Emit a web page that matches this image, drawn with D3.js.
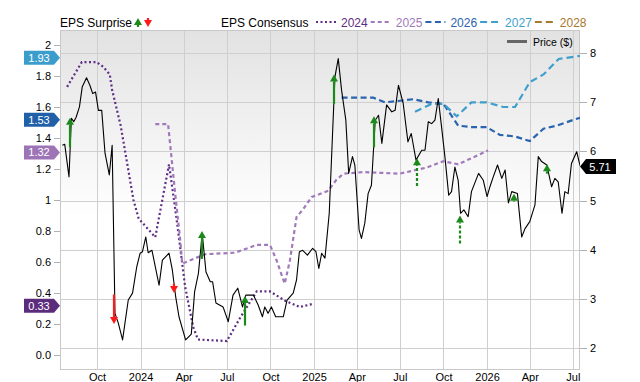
<!DOCTYPE html>
<html lang="en">
<head>
<meta charset="utf-8">
<style>
    body { margin: 0; background: #fff; }
    svg text { font-family: "Liberation Sans", Arial, sans-serif; }
    .grid line { stroke: #cfcfcf; stroke-width: 1; shape-rendering: crispEdges; }
    .axis path { display: none; }
    .axis line { stroke: #b0b0b0; shape-rendering: crispEdges; }
    .axis text { font-size: 11px; fill: #000; }
</style>
</head>
<body>
<svg width="640" height="382"></svg>

<script src="https://d3js.org/d3.v7.min.js"></script>
<script>
// ---- data ----
var priceData = [
    ["2023-07-20",6.12],["2023-07-25",6.14],["2023-08-03",5.48],["2023-08-08",6.67],["2023-08-13",6.60],
    ["2023-08-18",6.69],["2023-08-25",6.90],["2023-08-31",7.31],["2023-09-09",7.49],["2023-09-16",7.34],
    ["2023-09-22",7.17],["2023-09-28",7.20],["2023-10-04",6.83],["2023-10-11",6.83],["2023-10-18",5.96],
    ["2023-10-27",5.52],["2023-11-02",6.12],["2023-11-08",2.71],["2023-11-15",2.51],["2023-11-24",2.17],
    ["2023-12-06",2.98],["2023-12-15",3.12],["2023-12-24",3.66],["2023-12-31",3.93],["2024-01-05",3.96],
    ["2024-01-12",4.26],["2024-01-17",3.94],["2024-01-25",3.99],["2024-02-01",3.66],["2024-02-09",3.28],
    ["2024-02-16",3.79],["2024-03-01",3.93],["2024-03-08",3.59],["2024-03-15",3.05],["2024-03-22",2.64],
    ["2024-04-05",2.17],["2024-04-17",2.29],["2024-04-24",3.15],["2024-05-02",3.52],["2024-05-10",4.33],
    ["2024-05-18",3.55],["2024-05-27",3.35],["2024-06-01",3.35],["2024-06-08",2.92],["2024-06-23",2.84],
    ["2024-07-04",2.54],["2024-07-14",3.08],["2024-07-24",3.22],["2024-08-03",2.84],["2024-08-10",3.08],
    ["2024-08-26",3.08],["2024-09-05",2.88],["2024-09-14",2.64],["2024-09-19",2.84],["2024-09-26",2.71],
    ["2024-10-03",2.84],["2024-10-12",2.64],["2024-10-28",2.64],["2024-11-05",2.98],["2024-11-18",3.12],
    ["2024-11-25",3.39],["2024-12-01",3.96],["2024-12-08",3.99],["2024-12-18",3.89],["2024-12-29",4.03],
    ["2025-01-05",3.96],["2025-01-11",3.62],["2025-01-17",3.93],["2025-01-24",3.83],["2025-02-02",4.74],
    ["2025-02-09",6.36],["2025-02-14",7.51],["2025-02-21",7.88],["2025-02-28",7.24],["2025-03-09",6.63],
    ["2025-03-15",5.55],["2025-03-23",5.89],["2025-03-28",5.72],["2025-04-06",4.40],["2025-04-11",4.23],
    ["2025-04-18",4.54],["2025-04-25",5.14],["2025-05-02",5.31],["2025-05-10",6.63],["2025-05-17",6.73],
    ["2025-05-24",6.16],["2025-06-03",6.94],["2025-06-14",6.80],["2025-06-21",6.83],["2025-06-28",7.34],
    ["2025-07-08",6.97],["2025-07-18",6.19],["2025-07-25",6.36],["2025-08-04",5.82],["2025-08-16",6.02],
    ["2025-08-23",6.02],["2025-08-30",6.60],["2025-09-06",6.56],["2025-09-13",6.63],["2025-09-20",7.07],
    ["2025-09-27",6.49],["2025-10-04",5.89],["2025-10-12",5.11],["2025-10-18",5.18],["2025-10-25",5.68],
    ["2025-11-01",5.41],["2025-11-06",4.74],["2025-11-13",4.81],["2025-11-22",4.67],["2025-11-29",5.18],
    ["2025-12-14",5.55],["2025-12-24",5.41],["2026-01-01",5.08],["2026-01-07",5.28],["2026-01-14",5.48],
    ["2026-01-23",5.72],["2026-02-01",5.45],["2026-02-08",5.62],["2026-02-15",4.95],["2026-02-22",5.18],
    ["2026-03-06",5.14],["2026-03-15",4.26],["2026-03-22",4.43],["2026-04-01",4.57],["2026-04-12",4.91],
    ["2026-04-19",5.89],["2026-04-26",5.79],["2026-05-07",5.72],["2026-05-17",5.28],["2026-05-24",5.45],
    ["2026-05-31",5.38],["2026-06-08",4.74],["2026-06-14",5.18],["2026-06-21",5.14],["2026-06-28",5.75],
    ["2026-07-09",5.99],["2026-07-16",5.71]
];

var eps2024 = [
    ["2023-07-30",1.73],["2023-08-30",1.89],["2023-09-30",1.89],["2023-10-14",1.86],["2023-10-28",1.81],
    ["2023-11-02",1.71],["2023-11-20",1.48],["2023-12-17",1.00],["2023-12-28",0.88],["2024-02-01",0.76],
    ["2024-03-01",1.23],["2024-03-16",0.90],["2024-04-04",0.44],["2024-04-21",0.18],["2024-05-01",0.10],
    ["2024-07-01",0.09],["2024-07-29",0.24],["2024-09-02",0.41],["2024-09-30",0.41],["2024-11-01",0.35],
    ["2024-12-02",0.31],["2024-12-30",0.33]
];
var eps2025 = [
    ["2024-02-01",1.49],["2024-02-28",1.49],["2024-03-03",1.37],["2024-03-14",1.04],["2024-03-24",0.76],
    ["2024-03-29",0.59],["2024-05-16",0.65],["2024-07-18",0.66],["2024-09-02",0.71],["2024-09-30",0.71],
    ["2024-10-14",0.61],["2024-10-31",0.46],["2024-11-11",0.61],["2024-11-25",0.89],["2024-12-09",0.94],
    ["2024-12-27",1.02],["2025-01-06",1.03],["2025-01-31",1.06],["2025-02-17",1.13],["2025-03-04",1.17],
    ["2025-04-15",1.18],["2025-07-01",1.17],["2025-08-27",1.21],["2025-10-01",1.25],["2025-11-01",1.23],
    ["2026-01-03",1.32]
];
var eps2026 = [
    ["2025-02-28",1.66],["2025-05-06",1.66],["2025-05-31",1.63],["2025-07-29",1.65],["2025-08-30",1.63],
    ["2025-10-01",1.62],["2025-11-01",1.48],["2025-11-29",1.47],["2025-12-31",1.47],["2026-01-28",1.42],
    ["2026-03-01",1.41],["2026-04-01",1.38],["2026-04-30",1.46],["2026-05-28",1.48],["2026-07-05",1.52],
    ["2026-07-16",1.53]
];
var eps2027 = [
    ["2025-08-02",1.57],["2025-09-06",1.62],["2025-10-01",1.62],["2025-10-29",1.54],["2025-11-29",1.63],
    ["2025-12-31",1.63],["2026-02-04",1.60],["2026-03-01",1.60],["2026-04-01",1.76],["2026-04-30",1.81],
    ["2026-06-01",1.91],["2026-07-16",1.93]
];
var eps2028 = [];

var consensusYears = ["2024", "2025", "2026", "2027", "2028"];
var consensusSeries = [eps2024, eps2025, eps2026, eps2027, eps2028];

// EPS surprises: consensus (from) -> reported (to)
var surpriseDates = ["2023-08-06","2023-11-06","2024-03-11","2024-05-09","2024-08-08","2025-02-12",
                     "2025-05-08","2025-08-06","2025-11-04","2026-02-27","2026-05-08"];
var surpriseFrom  = [1.34, 0.39, 0.46, 0.62, 0.19, 1.62, 1.34, 1.09, 0.72, 0.99, 1.17];
var surpriseTo    = [1.53, 0.20, 0.40, 0.80, 0.38, 1.81, 1.54, 1.27, 0.90, 1.04, 1.23];
var surpriseEstimated = [false, false, false, false, false, false, false, true, true, false, false];

var epsTicks = [0, 0.2, 0.4, 0.6, 0.8, 1, 1.2, 1.4, 1.6, 1.8, 2];
var epsTickLabels = ["0.0", "0.2", "0.4", "0.6", "0.8", "1", "1.2", "1.4", "1.6", "1.8", "2"];
var priceTicks = [2, 3, 4, 5, 6, 7, 8];
var lastPrice = 5.71;

// ---- styles ----
var yearColors = ["#5e2d84", "#a17abb", "#2a64ae", "#3e9fcd", "#a8782c"];
var yearBadge  = ["#5c2c7c", "#9d74b5", "#2060a8", "#3b9dcb", "#a8782c"];
var yearDash   = ["2,2.5", "4,3", "6,3.5", "7,4", "7,4"];

var parse = d3.timeParse("%Y-%m-%d");
var svg = d3.select("svg");
var L = 60, R = 580, T = 30, B = 370;

var x = d3.scaleTime()
    .domain([new Date(2023, 6, 15), new Date(2026, 6, 16)])
    .range([L, R]);
var yEps = d3.scaleLinear().domain([0, 2]).range([355, 45]);
var yPrice = d3.scaleLinear().domain([2, 8]).range([348.3, 52.7]);

// background gradient
var defs = svg.append("defs");
var grad = defs.append("linearGradient").attr("id", "bg")
    .attr("x1", 0).attr("y1", 0).attr("x2", 0).attr("y2", 1);
grad.append("stop").attr("offset", "0%").attr("stop-color", "#e2e2e2");
grad.append("stop").attr("offset", "55%").attr("stop-color", "#ffffff");
grad.append("stop").attr("offset", "100%").attr("stop-color", "#ffffff");

defs.append("clipPath").attr("id", "plotclip")
    .append("rect").attr("x", L).attr("y", T).attr("width", R - L).attr("height", B - T);

svg.append("rect")
    .attr("x", L).attr("y", T).attr("width", R - L).attr("height", B - T)
    .attr("fill", "url(#bg)");

// grid
var quarterTicks = x.ticks(d3.timeMonth.every(3));
var grid = svg.append("g").attr("class", "grid");
grid.selectAll(".h").data(priceTicks).enter().append("line")
    .attr("x1", L).attr("x2", R)
    .attr("y1", function (d) { return Math.round(yPrice(d)) + 0.5; })
    .attr("y2", function (d) { return Math.round(yPrice(d)) + 0.5; });
grid.selectAll(".v").data(quarterTicks).enter().append("line")
    .attr("y1", T).attr("y2", B)
    .attr("x1", function (d) { return Math.round(x(d)) + 0.5; })
    .attr("x2", function (d) { return Math.round(x(d)) + 0.5; });
svg.append("rect")
    .attr("x", L + 0.5).attr("y", T + 0.5).attr("width", R - L - 1).attr("height", B - T - 1)
    .attr("fill", "none").attr("stroke", "#c8c8c8").attr("shape-rendering", "crispEdges");

// axes
svg.append("g").attr("class", "axis")
    .attr("transform", "translate(" + L + ",0)")
    .call(d3.axisLeft(yEps).tickValues(epsTicks).tickSize(6).tickPadding(3)
        .tickFormat(function (d, i) { return epsTickLabels[i]; }));

svg.append("g").attr("class", "axis")
    .attr("transform", "translate(" + R + ",0)")
    .call(d3.axisRight(yPrice).tickValues(priceTicks).tickSize(7).tickPadding(3)
        .tickFormat(d3.format("d")));

var xAxis = svg.append("g").attr("class", "axis")
    .attr("transform", "translate(0," + B + ")")
    .call(d3.axisBottom(x).tickValues(quarterTicks).tickSize(0).tickPadding(3)
        .tickFormat(function (d) {
            return d.getMonth() === 0 ? d3.timeFormat("%Y")(d) : d3.timeFormat("%b")(d);
        }));

// plot content
var plot = svg.append("g").attr("clip-path", "url(#plotclip)");

var epsLine = d3.line()
    .x(function (d) { return x(parse(d[0])); })
    .y(function (d) { return yEps(d[1]); });

consensusSeries.forEach(function (series, i) {
    if (!series.length) return;
    plot.append("path")
        .datum(series)
        .attr("d", epsLine)
        .attr("fill", "none")
        .attr("stroke", yearColors[i])
        .attr("stroke-width", 2.2)
        .attr("stroke-dasharray", yearDash[i]);
});

var priceLine = d3.line()
    .x(function (d) { return x(parse(d[0])); })
    .y(function (d) { return yPrice(d[1]); });

plot.append("path")
    .datum(priceData)
    .attr("d", priceLine)
    .attr("fill", "none")
    .attr("stroke", "#000")
    .attr("stroke-width", 1.1)
    .attr("stroke-linejoin", "round");

function arrow(g, cx, y0, y1, color, dashed) {
    var dir = y1 < y0 ? -1 : 1;
    var head = 7, hw = 4;
    var base = y1 - dir * head;
    if ((base - y0) * dir > 0) {
        g.append("line")
            .attr("x1", cx).attr("x2", cx).attr("y1", y0).attr("y2", base)
            .attr("stroke", color).attr("stroke-width", 2.2)
            .attr("stroke-dasharray", dashed ? "3,2" : null);
    }
    g.append("path")
        .attr("d", "M" + (cx - hw) + "," + base + "L" + (cx + hw) + "," + base + "L" + cx + "," + y1 + "Z")
        .attr("fill", color);
}

surpriseDates.forEach(function (d, i) {
    var up = surpriseTo[i] >= surpriseFrom[i];
    arrow(plot, Math.round(x(parse(d))), yEps(surpriseFrom[i]), yEps(surpriseTo[i]),
        up ? "#1b8a1b" : "#ff1a1a", surpriseEstimated[i]);
});

// badges for latest consensus values
consensusSeries.forEach(function (series, i) {
    if (!series.length) return;
    var v = series[series.length - 1][1];
    var cy = yEps(v) + 2;
    var g = svg.append("g");
    g.append("path")
        .attr("d", "M24," + (cy - 7) + "H54L60," + cy + "L54," + (cy + 7) + "H24Z")
        .attr("fill", yearBadge[i]);
    g.append("text")
        .attr("x", 39).attr("y", cy + 4)
        .attr("text-anchor", "middle")
        .attr("font-size", "11px")
        .attr("fill", "#fff")
        .text(d3.format(".2f")(v));
});

// price badge
(function () {
    var cy = yPrice(lastPrice) + 1;
    svg.append("path")
        .attr("d", "M580," + cy + "L586," + (cy - 7.5) + "H616V" + (cy + 7.5) + "H586Z")
        .attr("fill", "#000");
    svg.append("text")
        .attr("x", 600).attr("y", cy + 4)
        .attr("text-anchor", "middle")
        .attr("font-size", "11px")
        .attr("fill", "#fff")
        .text(d3.format(".2f")(lastPrice));
})();

// legend
var legend = svg.append("g").attr("font-size", "12px");
legend.append("text").attr("x", 60).attr("y", 27).text("EPS Surprise");
arrow(legend, 138, 27, 18, "#1b8a1b", false);
arrow(legend, 148, 18, 27, "#ff1a1a", false);
legend.append("text").attr("x", 221).attr("y", 27).text("EPS Consensus");

var lx = 316;
consensusYears.forEach(function (yr, i) {
    legend.append("line")
        .attr("x1", lx).attr("x2", lx + 20).attr("y1", 22).attr("y2", 22)
        .attr("stroke", yearColors[i]).attr("stroke-width", 2.2)
        .attr("stroke-dasharray", yearDash[i]);
    var t = legend.append("text")
        .attr("x", lx + 25).attr("y", 27)
        .attr("fill", yearColors[i])
        .text(yr);
    lx += 25 + t.node().getComputedTextLength() + 3;
});

legend.append("line")
    .attr("x1", 507).attr("x2", 527).attr("y1", 41.5).attr("y2", 41.5)
    .attr("stroke", "#666").attr("stroke-width", 3);
legend.append("text")
    .attr("x", 533).attr("y", 45.5).attr("font-size", "10.5px")
    .text("Price ($)");
</script>
</body>
</html>
